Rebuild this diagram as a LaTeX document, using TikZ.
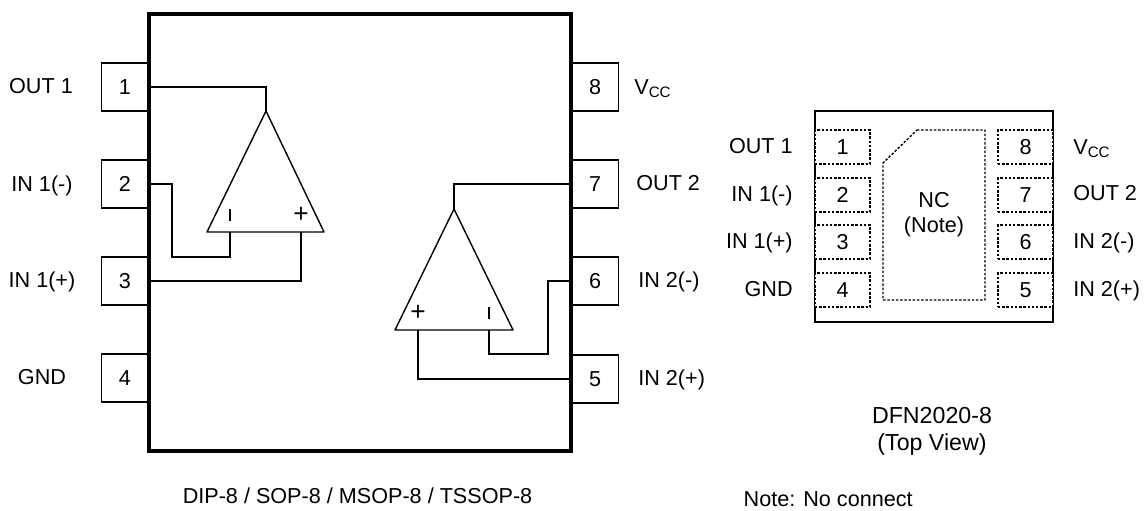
\documentclass[tikz,border=0pt]{standalone}
\usepackage{fontspec}
\setmainfont{Liberation Sans}

\begin{document}
\begin{tikzpicture}[x=0.02cm,y=-0.02cm,
		pinbox/.style={draw,line width=0.8pt,minimum width=0.94cm,minimum height=0.96cm,inner sep=0pt},
		padbox/.style={draw,fill=white,dotline,minimum width=1.1cm,minimum height=0.68cm,inner sep=0pt},
		chip/.style={draw,line width=2.6pt,minimum width=8.44cm,minimum height=8.74cm,inner sep=0pt},
		wire/.style={line width=0.8pt},
		dotline/.style={line width=0.8pt,dash pattern=on 1.4pt off 1pt},
		signmark/.style={inner sep=0pt,font=\fontsize{15}{15}\selectfont},
		ctext/.style={inner sep=0pt,anchor=base},
		captext/.style={inner sep=0pt,anchor=base,font=\fontsize{13.2}{15}\selectfont},
		ltext/.style={inner sep=0pt,anchor=base east},
		rtext/.style={inner sep=0pt,anchor=base west},
		every node/.append style={font=\fontsize{12.3}{14}\selectfont}]
				\useasboundingbox (0,0) rectangle (1148,510);
				% left package
				\node[pinbox] (p1) at (125,87) {1};
				\node[pinbox] (p2) at (125,184) {2};
				\node[pinbox] (p3) at (125,281) {3};
				\node[pinbox] (p4) at (125,378) {4};
				\node[pinbox] (p8) at (595,87) {8};
				\node[pinbox] (p7) at (595,184) {7};
				\node[pinbox] (p6) at (595,281) {6};
				\node[pinbox] (p5) at (595,379) {5};
				\node[chip] (ic) at (360,232.5) {};
				\node[ctext] (out1) at (41,93) {OUT 1};
				\node[ctext] (in1n) at (42,191) {IN 1(-)};
				\node[ctext] (in1p) at (42,287) {IN 1(+)};
				\node[ctext] (gnd) at (42,384) {GND};
				\node[rtext] (vcc) at (634,94) {V\textsubscript{CC}};
				\node[rtext] (out2) at (636,190) {OUT 2};
				\node[rtext] (in2n) at (638,287) {IN 2(-)};
				\node[rtext] (in2p) at (638,385) {IN 2(+)};
				% first amplifier
				\coordinate (a1) at (266,111);
				\coordinate (a1l) at (207,232);
				\coordinate (a1r) at (324,232);
				\coordinate (a1m) at (230,232);
				\coordinate (a1q) at (301,232);
				\coordinate (w1) at (151,87);
				\coordinate (w2) at (151,184);
				\coordinate (w3) at (151,281);
				\draw[wire,line join=round] (a1) -- (a1l) -- (a1r) -- cycle;
				\draw[wire] (w1) -| (a1);
				\draw[wire] (w2) -- (172,184) -- (172,257) -| (a1m);
				\draw[wire] (w3) -| (a1q);
				\node[signmark] (m1) at (230,215) {\rule{0.8pt}{7pt}};
				\node[signmark] (s1) at (301,215) {+};
				% second amplifier
				\coordinate (a2) at (454,209);
				\coordinate (a2l) at (395,330);
				\coordinate (a2r) at (513,330);
				\coordinate (a2m) at (489,330);
				\coordinate (a2q) at (418,330);
				\coordinate (w7) at (569,184);
				\coordinate (w6) at (569,281);
				\coordinate (w5) at (569,379);
				\draw[wire,line join=round] (a2) -- (a2l) -- (a2r) -- cycle;
				\draw[wire] (w7) -| (a2);
				\draw[wire] (w6) -- (548,281) -- (548,354) -| (a2m);
				\draw[wire] (w5) -| (a2q);
				\node[signmark] (m2) at (489,313) {\rule{0.8pt}{7pt}};
				\node[signmark] (s2) at (418,313) {+};
				\node[ctext] (dip) at (357.5,503) {DIP-8 / SOP-8 / MSOP-8 / TSSOP-8};
				% right package
				\draw[line width=0.8pt] (815,322) rectangle (1053,111);
				\node[padbox] (d1) at (842.5,147) {1};
				\node[padbox] (d2) at (842.5,195) {2};
				\node[padbox] (d3) at (842.5,242) {3};
				\node[padbox] (d4) at (842.5,290) {4};
				\node[padbox] (d8) at (1025.5,147) {8};
				\node[padbox] (d7) at (1025.5,195) {7};
				\node[padbox] (d6) at (1025.5,242) {6};
				\node[padbox] (d5) at (1025.5,290) {5};
				\draw[dotline] (917,130) -- (985,130) -- (985,300) -- (883,300) -- (883,163) -- cycle;
				\node[ctext] (nc) at (934,207) {NC};
				\node[ctext] (note) at (934,232) {(Note)};
				\node[ltext] (dout1) at (793,153) {OUT 1};
				\node[ltext] (din1n) at (793,201) {IN 1(-)};
				\node[ltext] (din1p) at (793,248) {IN 1(+)};
				\node[ltext] (dgnd) at (793,296) {GND};
				\node[rtext] (dvcc) at (1073,154) {V\textsubscript{CC}};
				\node[rtext] (dout2) at (1073,200) {OUT 2};
				\node[rtext] (din2n) at (1073,248) {IN 2(-)};
				\node[rtext] (din2p) at (1073,296) {IN 2(+)};
				\node[captext] (dfn) at (932,423) {DFN2020-8};
				\node[captext] (top) at (932,450) {(Top View)};
				\node[ltext] (nconn) at (913,506) {Note: No connect};
			\end{tikzpicture}
\end{document}
